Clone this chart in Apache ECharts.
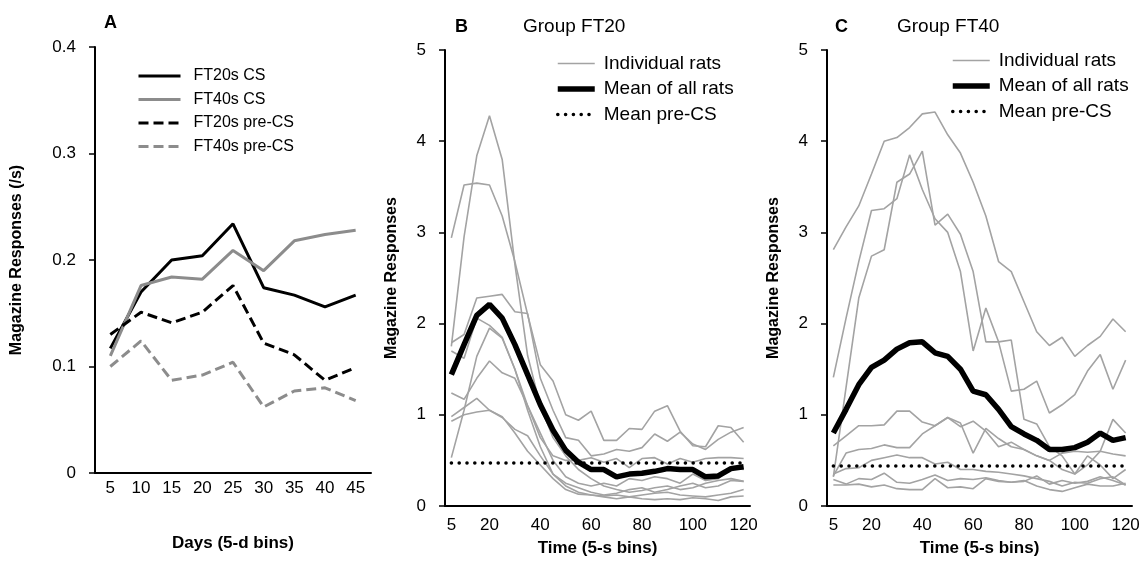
<!DOCTYPE html>
<html>
<head>
    <meta charset="utf-8">
    <title>Magazine responses</title>
    <style>
        html, body { margin: 0; padding: 0; background: #fff; }
    </style>
</head>
<body>
    <div id="main" style="width: 1146px;height:562px;"></div>
</body>
<script src="https://cdn.jsdelivr.net/npm/echarts@6/dist/echarts.min.js"></script>
<script>
// ---- panel A : days ----
var dayBins = ['5', '10', '15', '20', '25', '30', '35', '40', '45'];
var ft20CS = [0.117, 0.170, 0.200, 0.204, 0.234, 0.174, 0.167, 0.156, 0.167];
var ft40CS = [0.110, 0.176, 0.184, 0.182, 0.209, 0.190, 0.218, 0.224, 0.228];
var ft20Pre = [0.130, 0.151, 0.141, 0.151, 0.176, 0.122, 0.111, 0.087, 0.099];
var ft40Pre = [0.100, 0.124, 0.087, 0.092, 0.104, 0.062, 0.077, 0.080, 0.068];

// ---- panels B and C : time in 5-s bins ----
var timeBins = ['5', '10', '15', '20', '25', '30', '35', '40', '45', '50', '55', '60',
    '65', '70', '75', '80', '85', '90', '95', '100', '105', '110', '115', '120'];

// group FT20, individual rats
var ratB1 = [1.75, 2.95, 3.84, 4.28, 3.80, 2.65, 1.65, 1.10, 0.75, 0.55, 0.40, 0.30, 0.22, 0.18, 0.15, 0.17, 0.20, 0.22, 0.18, 0.20, 0.25, 0.28, 0.30, 0.27];
var ratB2 = [2.94, 3.52, 3.54, 3.52, 3.18, 2.68, 2.10, 1.55, 1.37, 1.00, 0.94, 1.04, 0.72, 0.72, 0.85, 0.84, 1.04, 1.10, 0.82, 0.66, 0.65, 0.88, 0.86, 0.70];
var ratB3 = [1.79, 1.88, 2.28, 2.30, 2.32, 2.13, 2.11, 1.40, 1.05, 0.75, 0.72, 0.55, 0.57, 0.62, 0.60, 0.64, 0.79, 0.71, 0.81, 0.68, 0.62, 0.73, 0.81, 0.86];
var ratB4 = [1.70, 1.62, 2.06, 1.98, 1.85, 1.50, 1.10, 0.75, 0.55, 0.50, 0.50, 0.53, 0.48, 0.52, 0.42, 0.52, 0.53, 0.46, 0.52, 0.48, 0.52, 0.53, 0.53, 0.52];
var ratB5 = [1.24, 1.17, 1.40, 1.59, 1.46, 1.40, 1.10, 0.80, 0.50, 0.32, 0.25, 0.22, 0.25, 0.22, 0.30, 0.28, 0.32, 0.30, 0.25, 0.35, 0.28, 0.30, 0.42, 0.40];
var ratB6 = [0.98, 1.08, 1.18, 1.05, 0.97, 0.84, 0.77, 0.55, 0.35, 0.25, 0.20, 0.15, 0.12, 0.14, 0.18, 0.20, 0.15, 0.18, 0.22, 0.25, 0.20, 0.22, 0.28, 0.27];
var ratB7 = [0.93, 1.00, 1.03, 1.05, 0.98, 0.80, 0.60, 0.45, 0.30, 0.18, 0.13, 0.12, 0.11, 0.12, 0.10, 0.12, 0.14, 0.15, 0.12, 0.11, 0.10, 0.12, 0.14, 0.18];
var ratB8 = [0.53, 1.05, 1.64, 1.95, 1.84, 1.50, 1.05, 0.65, 0.35, 0.22, 0.15, 0.12, 0.10, 0.08, 0.10, 0.08, 0.07, 0.08, 0.07, 0.09, 0.08, 0.06, 0.10, 0.11];
var meanB = [1.44, 1.77, 2.09, 2.21, 2.06, 1.77, 1.44, 1.11, 0.83, 0.61, 0.48, 0.40, 0.40, 0.32, 0.35, 0.36, 0.38, 0.41, 0.40, 0.40, 0.32, 0.33, 0.41, 0.43];
var preCSB = 0.47;

// group FT40, individual rats
var ratC1 = [2.81, 3.06, 3.29, 3.64, 4.00, 4.04, 4.15, 4.30, 4.32, 4.07, 3.87, 3.55, 3.18, 2.68, 2.57, 2.24, 1.91, 1.76, 1.85, 1.64, 1.76, 1.86, 2.05, 1.91];
var ratC2 = [1.41, 2.06, 2.68, 3.24, 3.26, 3.37, 3.85, 3.47, 3.15, 3.00, 2.57, 1.70, 2.17, 1.80, 1.82, 0.95, 0.90, 0.65, 0.55, 0.35, 0.55, 0.45, 0.30, 0.40];
var ratC3 = [0.32, 1.30, 2.28, 2.74, 2.81, 3.55, 3.64, 3.89, 3.08, 3.20, 2.98, 2.57, 1.80, 1.80, 1.26, 1.28, 1.37, 1.02, 1.11, 1.22, 1.48, 1.66, 1.28, 1.60];
var ratC4 = [0.66, 0.77, 0.88, 0.88, 0.89, 1.04, 1.04, 0.92, 0.88, 0.97, 0.87, 0.93, 0.82, 0.65, 0.70, 0.62, 0.55, 0.50, 0.40, 0.35, 0.45, 0.60, 0.95, 0.80];
var ratC5 = [0.33, 0.58, 0.62, 0.63, 0.67, 0.64, 0.64, 0.79, 0.88, 0.97, 0.91, 0.58, 0.85, 0.74, 0.65, 0.62, 0.55, 0.50, 0.58, 0.60, 0.59, 0.60, 0.57, 0.55];
var ratC6 = [0.35, 0.41, 0.42, 0.50, 0.53, 0.56, 0.53, 0.53, 0.46, 0.48, 0.40, 0.40, 0.38, 0.37, 0.35, 0.33, 0.30, 0.27, 0.22, 0.26, 0.25, 0.30, 0.32, 0.23];
var ratC7 = [0.29, 0.24, 0.30, 0.29, 0.36, 0.26, 0.25, 0.29, 0.34, 0.28, 0.30, 0.29, 0.31, 0.28, 0.26, 0.27, 0.33, 0.24, 0.28, 0.25, 0.27, 0.32, 0.28, 0.23];
var ratC8 = [0.23, 0.23, 0.24, 0.21, 0.23, 0.19, 0.18, 0.18, 0.30, 0.20, 0.21, 0.19, 0.30, 0.27, 0.26, 0.28, 0.22, 0.18, 0.16, 0.20, 0.24, 0.22, 0.22, 0.25];
var meanC = [0.80, 1.06, 1.33, 1.52, 1.60, 1.72, 1.79, 1.80, 1.68, 1.64, 1.50, 1.26, 1.22, 1.06, 0.87, 0.79, 0.72, 0.62, 0.62, 0.64, 0.70, 0.80, 0.72, 0.75];
var preCSC = 0.44;

var ratsB = [ratB1, ratB2, ratB3, ratB4, ratB5, ratB6, ratB7, ratB8];
var ratsC = [ratC1, ratC2, ratC3, ratC4, ratC5, ratC6, ratC7, ratC8];

var FONT = "'Liberation Sans', Arial, sans-serif";
var GREY = '#8c8c8c';
var RAT_GREY = '#a3a3a3';
var DOTS = [0.1, 7.7];

var myChart = echarts.init(document.getElementById('main'));

function yAxisOf(grid, max, interval, name, gap) {
    return {
        type: 'value', gridIndex: grid, min: 0, max: max, interval: interval,
        name: name, nameLocation: 'middle', nameGap: gap, nameRotate: 90,
        nameTextStyle: { fontWeight: 'bold', fontSize: 16, color: '#000', fontFamily: FONT },
        axisLine: { show: true, lineStyle: { color: '#000', width: 2 } },
        axisTick: { show: true, length: 6, lineStyle: { color: '#000', width: 1.5 } },
        axisLabel: { fontSize: 17, color: '#000', margin: 19, fontFamily: FONT },
        splitLine: { show: false }
    };
}

function xAxisOf(grid, cats, name, labelMargin, gap, labelInterval) {
    return {
        type: 'category', gridIndex: grid, data: cats, boundaryGap: true,
        name: name, nameLocation: 'middle', nameGap: gap,
        nameTextStyle: { fontWeight: 'bold', fontSize: 17, color: '#000', fontFamily: FONT },
        axisLine: { show: true, lineStyle: { color: '#000', width: 2 } },
        axisTick: { show: false },
        axisLabel: { fontSize: 17, color: '#000', margin: labelMargin, interval: labelInterval, fontFamily: FONT },
        splitLine: { show: false }
    };
}

// only 5 and every 20 get a label in B and C
function every20(index, value) {
    return value === '5' || Number(value) % 20 === 0;
}

// itemStyle is transparent so the legend shows just the line
function lineSeries(name, data, xi, color, width, type) {
    return {
        name: name, type: 'line', xAxisIndex: xi, yAxisIndex: xi, data: data,
        symbol: 'none', smooth: false, silent: true,
        lineStyle: { color: color, width: width, type: type || 'solid' },
        itemStyle: { color: 'transparent', borderColor: 'transparent' }
    };
}

function preCSSeries(xi, value, cats) {
    var dotted = { color: '#000', width: 3.5, type: DOTS, cap: 'round' };
    return {
        name: 'Mean pre-CS', type: 'line', xAxisIndex: xi, yAxisIndex: xi, data: [],
        symbol: 'none', silent: true,
        lineStyle: dotted,
        itemStyle: { color: 'transparent', borderColor: 'transparent' },
        markLine: {
            silent: true, symbol: 'none', label: { show: false },
            lineStyle: dotted,
            emphasis: { disabled: true },
            data: [[{ coord: [cats[0], value] }, { coord: [cats[cats.length - 1], value] }]]
        }
    };
}

var series = [
    lineSeries('FT20s CS', ft20CS, 0, '#000', 3),
    lineSeries('FT40s CS', ft40CS, 0, GREY, 3),
    lineSeries('FT20s pre-CS', ft20Pre, 0, '#000', 3, [10, 5]),
    lineSeries('FT40s pre-CS', ft40Pre, 0, GREY, 3, [10, 5])
];
ratsB.forEach(function (r) { series.push(lineSeries('Individual rats', r, 1, RAT_GREY, 1.6)); });
series.push(preCSSeries(1, preCSB, timeBins));
series.push(lineSeries('Mean of all rats', meanB, 1, '#000', 5.5));
ratsC.forEach(function (r) { series.push(lineSeries('Individual rats', r, 2, RAT_GREY, 1.6)); });
series.push(preCSSeries(2, preCSC, timeBins));
series.push(lineSeries('Mean of all rats', meanC, 2, '#000', 5.5));

var legendBase = {
    orient: 'vertical', padding: 0, selectedMode: false,
    itemStyle: { color: 'transparent', borderColor: 'transparent', opacity: 0 },
    lineStyle: { width: 'inherit' },
    textStyle: { color: '#000', fontFamily: FONT }
};

myChart.setOption({
    animation: false,
    textStyle: { fontFamily: FONT },
    title: [
        { text: 'A', left: 104, top: 14, padding: 0, textStyle: { fontWeight: 'bold', fontSize: 18, color: '#000', fontFamily: FONT } },
        { text: 'B', left: 455, top: 18, padding: 0, textStyle: { fontWeight: 'bold', fontSize: 18, color: '#000', fontFamily: FONT } },
        { text: 'Group FT20', left: 523, top: 17, padding: 0, textStyle: { fontWeight: 'normal', fontSize: 19, color: '#000', fontFamily: FONT } },
        { text: 'C', left: 835, top: 18, padding: 0, textStyle: { fontWeight: 'bold', fontSize: 18, color: '#000', fontFamily: FONT } },
        { text: 'Group FT40', left: 897, top: 17, padding: 0, textStyle: { fontWeight: 'normal', fontSize: 19, color: '#000', fontFamily: FONT } }
    ],
    legend: [
        Object.assign({}, legendBase, {
            left: 137, top: 68, itemWidth: 42, itemHeight: 14, itemGap: 7.5,
            data: ['FT20s CS', 'FT40s CS', 'FT20s pre-CS', 'FT40s pre-CS'],
            textStyle: { color: '#000', fontFamily: FONT, fontSize: 16, padding: [0, 0, 0, 8] }
        }),
        Object.assign({}, legendBase, {
            left: 555, top: 54, itemWidth: 37, itemHeight: 14, itemGap: 6.5,
            data: ['Individual rats', 'Mean of all rats', 'Mean pre-CS'],
            textStyle: { color: '#000', fontFamily: FONT, fontSize: 19, padding: [0, 0, 0, 4] }
        }),
        Object.assign({}, legendBase, {
            left: 950, top: 51, itemWidth: 37, itemHeight: 14, itemGap: 6.5,
            data: ['Individual rats', 'Mean of all rats', 'Mean pre-CS'],
            textStyle: { color: '#000', fontFamily: FONT, fontSize: 19, padding: [0, 0, 0, 4] }
        })
    ],
    grid: [
        { left: 95, top: 47, width: 276, height: 426 },
        { left: 445, top: 50, width: 305, height: 459 },
        { left: 827, top: 50, width: 305, height: 459 }
    ],
    xAxis: [
        xAxisOf(0, dayBins, 'Days (5-d bins)', 7, 62, 0),
        xAxisOf(1, timeBins, 'Time (5-s bins)', 11, 34, every20),
        xAxisOf(2, timeBins, 'Time (5-s bins)', 11, 34, every20)
    ],
    yAxis: [
        yAxisOf(0, 0.4, 0.1, 'Magazine Responses (/s)', 70),
        yAxisOf(1, 5, 1, 'Magazine Responses', 45),
        yAxisOf(2, 5, 1, 'Magazine Responses', 45)
    ],
    series: series
});
</script>
</html>
